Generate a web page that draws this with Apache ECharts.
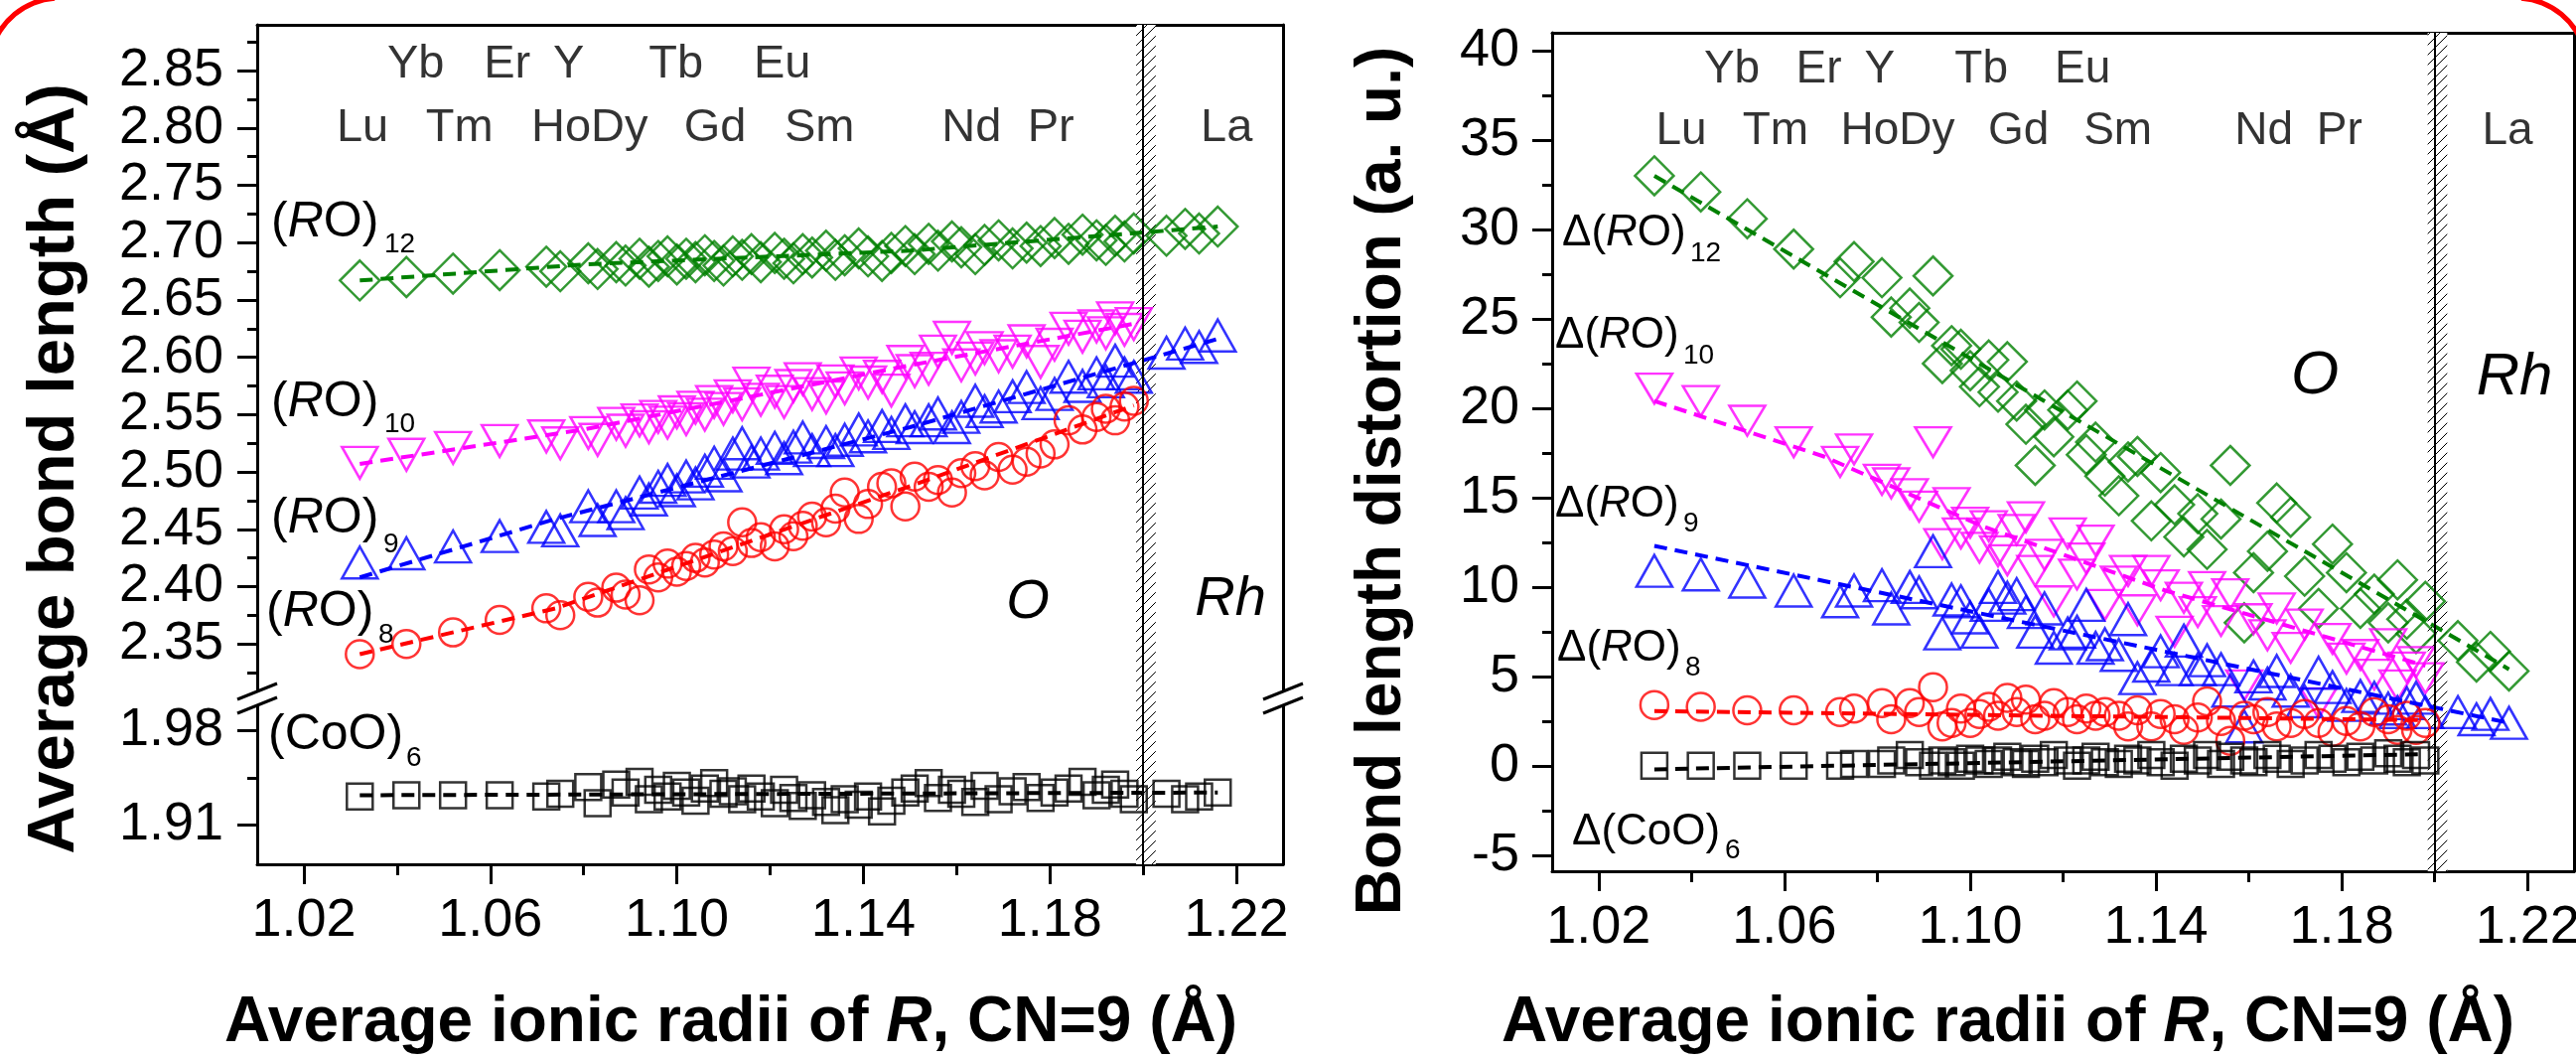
<!DOCTYPE html>
<html>
<head>
<meta charset="utf-8">
<title>Average bond length and bond length distortion vs ionic radius</title>
<script src="https://cdn.jsdelivr.net/npm/echarts@6/dist/echarts.min.js"></script>
<style>
  html, body { margin: 0; padding: 0; background: #fff; overflow: hidden; }
  #main { width: 2594px; height: 1068px; }
</style>
</head>
<body>
<div id="main"></div>
<script>
// average ionic radius of R (CN=9), one entry per composition
var radii = [1.032, 1.042, 1.052, 1.062, 1.072, 1.075, 1.081, 1.083, 1.087, 1.089,
  1.092, 1.094, 1.096, 1.098, 1.100, 1.102, 1.104, 1.106, 1.108, 1.110,
  1.112, 1.114, 1.116, 1.118, 1.121, 1.123, 1.125, 1.127, 1.129, 1.132,
  1.134, 1.136, 1.139, 1.141, 1.144, 1.146, 1.149, 1.151, 1.154, 1.156,
  1.159, 1.161, 1.164, 1.166, 1.169, 1.172, 1.175, 1.178, 1.181, 1.184,
  1.187, 1.190, 1.192, 1.194, 1.196, 1.198, 1.205, 1.209, 1.212, 1.216];

// left panel: average bond length (A)
var lenRO12 = [2.667, 2.670, 2.673, 2.676, 2.679, 2.675, 2.682, 2.677, 2.683, 2.680,
  2.686, 2.679, 2.684, 2.688, 2.681, 2.686, 2.683, 2.689, 2.684, 2.680,
  2.688, 2.685, 2.690, 2.683, 2.691, 2.686, 2.682, 2.690, 2.687, 2.693,
  2.685, 2.689, 2.695, 2.688, 2.684, 2.691, 2.697, 2.690, 2.699, 2.693,
  2.701, 2.696, 2.690, 2.698, 2.702, 2.695, 2.700, 2.697, 2.704, 2.699,
  2.707, 2.702, 2.698, 2.706, 2.701, 2.708, 2.706, 2.712, 2.708, 2.714];
var lenRO10 = [2.508, 2.515, 2.521, 2.527, 2.531, 2.525, 2.534, 2.528, 2.542, 2.536,
  2.545, 2.539, 2.548, 2.543, 2.552, 2.546, 2.556, 2.550, 2.561, 2.555,
  2.566, 2.559, 2.577, 2.563, 2.570, 2.561, 2.575, 2.581, 2.568, 2.565,
  2.579, 2.573, 2.586, 2.578, 2.583, 2.571, 2.596, 2.588, 2.590, 2.605,
  2.617, 2.593, 2.599, 2.608, 2.601, 2.605, 2.614, 2.596, 2.611, 2.625,
  2.618, 2.627, 2.621, 2.634, 2.624, 2.629, null, null, null, null];
var lenRO9 = [2.421, 2.429, 2.435, 2.444, 2.452, 2.449, 2.470, 2.458, 2.470, 2.464,
  2.482, 2.476, 2.487, 2.493, 2.484, 2.496, 2.490, 2.501, 2.508, 2.497,
  2.516, 2.525, 2.509, 2.516, 2.521, 2.512, 2.522, 2.530, 2.519, 2.526,
  2.519, 2.528, 2.537, 2.531, 2.540, 2.534, 2.545, 2.539, 2.545, 2.551,
  2.539, 2.548, 2.562, 2.553, 2.557, 2.566, 2.574, 2.560, 2.568, 2.583,
  2.575, 2.586, 2.579, 2.597, 2.586, 2.583, 2.604, 2.612, 2.609, 2.619];
var lenRO8 = [2.341, 2.350, 2.360, 2.371, 2.381, 2.375, 2.391, 2.386, 2.399, 2.393,
  2.388, 2.415, 2.408, 2.420, 2.413, 2.418, 2.425, 2.421, 2.428, 2.435,
  2.431, 2.456, 2.438, 2.443, 2.435, 2.450, 2.444, 2.453, 2.461, 2.456,
  2.468, 2.482, 2.459, 2.472, 2.487, 2.490, 2.470, 2.496, 2.487, 2.493,
  2.482, 2.499, 2.505, 2.497, 2.513, 2.502, 2.509, 2.516, 2.524, 2.545,
  2.537, 2.548, 2.555, 2.545, 2.557, 2.562, null, null, null, null];
var lenCoO6 = [1.931, 1.932, 1.932, 1.932, 1.931, 1.933, 1.938, 1.926, 1.940, 1.934,
  1.942, 1.929, 1.936, 1.931, 1.939, 1.934, 1.928, 1.937, 1.941, 1.933,
  1.935, 1.929, 1.937, 1.931, 1.926, 1.936, 1.930, 1.924, 1.932, 1.927,
  1.921, 1.929, 1.925, 1.931, 1.920, 1.928, 1.934, 1.937, 1.941, 1.930,
  1.936, 1.933, 1.927, 1.939, 1.929, 1.935, 1.938, 1.930, 1.934, 1.937,
  1.942, 1.932, 1.936, 1.940, 1.933, 1.929, 1.933, 1.929, 1.931, 1.934];

// right panel: bond length distortion (a. u.)
var distRO12 = [33.0, 32.1, 30.6, 28.9, 27.3, 28.2, 27.3, 25.1, 25.6, 24.8,
  27.4, 22.5, 23.5, 23.3, 22.1, 21.2, 22.7, 20.9, 22.6, 20.4,
  19.1, 16.8, 19.9, 18.4, 19.9, 20.4, 17.4, 18.1, 16.2, 15.1,
  17.0, 17.3, 13.7, 16.4, 14.6, 12.8, 14.1, 12.1, 13.8, 16.8,
  8.0, 10.8, 12.0, 14.7, 13.9, 10.6, 8.8, 12.4, 10.8, 8.8,
  9.6, 8.0, 10.4, 8.2, 7.4, 9.2, 7.0, 5.8, 6.4, 5.3];
var distRO10 = [21.1, 20.4, 19.3, 18.1, 17.0, 17.7, 16.0, 15.8, 15.2, 14.5,
  18.1, 12.4, 14.7, 13.0, 13.6, 12.2, 13.4, 12.0, 11.5, 13.2,
  13.9, 10.9, 11.8, 9.2, 13.0, 10.7, 11.6, 12.6, 9.0, 10.3,
  10.9, 8.7, 10.9, 10.1, 7.5, 9.4, 8.6, 10.0, 8.1, 9.6,
  4.5, 8.2, 7.3, 8.8, 6.6, 7.9, 3.5, 7.1, 6.0, 6.2,
  5.1, 6.8, 4.5, 5.5, 5.8, 4.9, null, null, null, null];
var distRO9 = [10.9, 10.7, 10.3, 9.8, 9.2, 9.8, 10.1, 8.8, 10.0, 9.7,
  12.0, 7.4, 9.3, 9.2, 8.3, 7.5, 9.0, 10.0, 9.4, 9.6,
  8.6, 7.5, 8.8, 6.6, 7.4, 7.5, 9.0, 6.6, 6.8, 6.2,
  8.2, 4.9, 5.6, 6.4, 5.4, 7.0, 5.4, 5.9, 5.4, 4.2,
  2.2, 5.0, 4.6, 5.3, 4.2, 3.6, 5.2, 4.4, 3.4, 3.9,
  3.8, 3.2, 3.0, 3.5, 3.8, 3.0, 3.0, 2.6, 2.9, 2.4];
var distRO8 = [3.4, 3.3, 3.1, 3.1, 3.0, 3.2, 3.5, 2.6, 3.5, 3.0,
  4.4, 2.2, 2.4, 3.2, 2.4, 2.9, 3.3, 2.8, 3.8, 3.0,
  3.7, 2.6, 2.8, 3.5, 3.0, 2.6, 3.2, 2.8, 3.0, 2.8,
  2.2, 3.1, 2.2, 2.9, 2.6, 2.0, 2.7, 3.6, 2.5, 1.4,
  2.8, 2.6, 3.0, 2.2, 2.4, 2.9, 2.4, 1.9, 2.5, 2.2,
  3.0, 2.6, 2.0, 2.8, 2.0, 2.4, null, null, null, null];
var distCoO6 = [0.0, 0.0, 0.0, 0.0, 0.0, 0.1, 0.1, 0.3, 0.6, 0.2,
  0.0, 0.3, 0.2, 0.0, 0.4, 0.3, 0.1, 0.3, 0.5, 0.2,
  0.1, 0.4, 0.2, 0.6, 0.3, 0.0, 0.3, 0.5, 0.2, 0.1,
  0.4, 0.3, 0.6, 0.2, 0.0, 0.4, 0.3, 0.6, 0.1, 0.5,
  0.3, 0.2, 0.6, 0.4, 0.1, 0.3, 0.6, 0.4, 0.2, 0.5,
  0.3, 0.7, 0.4, 0.2, 0.6, 0.3, null, null, null, null];

// dashed fit lines
var fitLenRO12 = [[1.032, 2.667], [1.08, 2.681], [1.15, 2.693], [1.216, 2.714]];
var fitLenRO10 = [[1.032, 2.507], [1.08, 2.537], [1.15, 2.593], [1.199, 2.630]];
var fitLenRO9 = [[1.032, 2.408], [1.074, 2.459], [1.15, 2.539], [1.216, 2.616]];
var fitLenRO8 = [[1.032, 2.341], [1.074, 2.381], [1.151, 2.489], [1.198, 2.558]];
var fitLenCoO6 = [[1.032, 1.932], [1.216, 1.934]];
var fitDistRO12 = [[1.032, 33.0], [1.216, 5.4]];
var fitDistRO10 = [[1.032, 20.4], [1.0685, 17.3], [1.1026, 13.4], [1.142, 9.8], [1.198, 5.6]];
var fitDistRO9 = [[1.032, 12.3], [1.216, 2.4]];
var fitDistRO8 = [[1.032, 3.06], [1.198, 2.55]];
var fitDistCoO6 = [[1.032, -0.2], [1.198, 0.65]];

// O / Rh phase boundary band
var bandX = [1.1985, 1.2027];

// tick values
var xMajor = [1.02, 1.06, 1.10, 1.14, 1.18, 1.22];
var xMinor = [1.04, 1.08, 1.12, 1.16, 1.20];
var yUpMajor = [2.35, 2.40, 2.45, 2.50, 2.55, 2.60, 2.65, 2.70, 2.75, 2.80, 2.85];
var yUpMinor = [2.325, 2.375, 2.425, 2.475, 2.525, 2.575, 2.625, 2.675, 2.725, 2.775, 2.825, 2.875];
var yLowMajor = [1.91, 1.98];
var yLowMinor = [1.945];
var yDistMajor = [-5, 0, 5, 10, 15, 20, 25, 30, 35, 40];
var yDistMinor = [-2.5, 2.5, 7.5, 12.5, 17.5, 22.5, 27.5, 32.5, 37.5];

// element labels along the top of each panel
var elemTop = ['Yb', 'Er', 'Y', 'Tb', 'Eu'];
var elemBottom = ['Lu', 'Tm', 'HoDy', 'Gd', 'Sm', 'Nd', 'Pr', 'La'];
var elemTopAtLeft = [1.0440, 1.0636, 1.0768, 1.0998, 1.1226];
var elemBottomAtLeft = [1.0326, 1.0534, 1.0813, 1.1082, 1.1306, 1.1632, 1.1802, 1.2179];
var elemTopAtRight = [1.0487, 1.0674, 1.0805, 1.1024, 1.1242];
var elemBottomAtRight = [1.0378, 1.0581, 1.0844, 1.1104, 1.1318, 1.1632, 1.1795, 1.2157];

var FONT = '"Liberation Sans", Arial, Helvetica, sans-serif';
var GREEN = '#008000', MAGENTA = '#ff00ff', BLUE = '#0000ff', RED = '#ff0000', BLACK = '#000000';
var TICK_FONT = 54;

function pts(ys) {
  var out = [];
  for (var i = 0; i < radii.length; i++) {
    if (ys[i] != null) out.push([radii[i], ys[i]]);
  }
  return out;
}

function hatchTile() {
  var c = document.createElement('canvas');
  c.width = 10; c.height = 10;
  var g = c.getContext('2d');
  g.fillStyle = '#fff';
  g.fillRect(0, 0, 10, 10);
  g.strokeStyle = '#000';
  g.lineWidth = 1.0;
  g.beginPath();
  g.moveTo(-1, 11); g.lineTo(11, -1);
  g.moveTo(-6, 6); g.lineTo(6, -6);
  g.moveTo(4, 16); g.lineTo(16, 4);
  g.stroke();
  return c;
}
var tile = hatchTile();

var f2 = function (v) { return v.toFixed(2); };
var f0 = function (v) { return String(Math.round(v)); };

var xAxes = [], yAxes = [];
function axis(list, gi, min, max, pos, o) {
  list.push({
    type: 'value', gridIndex: gi, min: min, max: max, position: pos,
    axisLine: { show: !!o.line, onZero: false, lineStyle: { color: '#000', width: 3 } },
    axisTick: { show: !!o.ticks, customValues: o.ticks, length: o.len || 20,
      lineStyle: { color: '#000', width: 3 } },
    axisLabel: { show: !!o.labels, customValues: o.labels, margin: o.margin || 8,
      fontSize: TICK_FONT, fontFamily: FONT, color: '#000', formatter: o.fmt },
    splitLine: { show: false },
    minorTick: { show: false }
  });
  return list.length - 1;
}

var XR = [1.01, 1.23];
var YUP = [2.3042, 2.89], YLOW = [1.8807, 2.0054], YDIST = [-5.9, 41];

// grid 0: upper part of left panel
var gx0 = axis(xAxes, 0, XR[0], XR[1], 'top', { line: true });
var gy0 = axis(yAxes, 0, YUP[0], YUP[1], 'left', { line: true, ticks: yUpMajor, labels: yUpMajor, margin: 34, fmt: f2 });
axis(yAxes, 0, YUP[0], YUP[1], 'left', { ticks: yUpMinor, len: 10 });
axis(yAxes, 0, YUP[0], YUP[1], 'right', { line: true });
// grid 1: lower part of left panel
var gx1 = axis(xAxes, 1, XR[0], XR[1], 'bottom', { line: true, ticks: xMajor, labels: xMajor, margin: 30, fmt: f2 });
axis(xAxes, 1, XR[0], XR[1], 'bottom', { ticks: xMinor, len: 11 });
var gy1 = axis(yAxes, 1, YLOW[0], YLOW[1], 'left', { line: true, ticks: yLowMajor, labels: yLowMajor, margin: 34, fmt: f2 });
axis(yAxes, 1, YLOW[0], YLOW[1], 'left', { ticks: yLowMinor, len: 10 });
axis(yAxes, 1, YLOW[0], YLOW[1], 'right', { line: true });
// grid 2: right panel
var gx2 = axis(xAxes, 2, XR[0], XR[1], 'bottom', { line: true, ticks: xMajor, labels: xMajor, margin: 30, fmt: f2 });
axis(xAxes, 2, XR[0], XR[1], 'bottom', { ticks: xMinor, len: 11 });
axis(xAxes, 2, XR[0], XR[1], 'top', { line: true });
var gy2 = axis(yAxes, 2, YDIST[0], YDIST[1], 'left', { line: true, ticks: yDistMajor, labels: yDistMajor, margin: 33, fmt: f0 });
axis(yAxes, 2, YDIST[0], YDIST[1], 'left', { ticks: yDistMinor, len: 10 });
axis(yAxes, 2, YDIST[0], YDIST[1], 'right', { line: true });

function scat(xi, yi, ys, sym, size, color, rot) {
  return {
    type: 'scatter', xAxisIndex: xi, yAxisIndex: yi, data: pts(ys),
    symbol: sym, symbolSize: size, symbolRotate: rot || 0,
    itemStyle: { color: 'rgba(0,0,0,0)', borderColor: color, borderWidth: 2.5 },
    emphasis: { disabled: true }, silent: true, z: 2
  };
}
function fit(xi, yi, data, color) {
  return {
    type: 'line', xAxisIndex: xi, yAxisIndex: yi, data: data,
    symbol: 'none', showSymbol: false,
    lineStyle: { color: color, width: 4, type: [13, 8] },
    emphasis: { disabled: true }, silent: true, z: 3
  };
}
function band(xi, yi) {
  return {
    type: 'scatter', xAxisIndex: xi, yAxisIndex: yi, data: [], silent: true, z: 1,
    markArea: {
      silent: true,
      itemStyle: { color: { image: tile, repeat: 'repeat' }, borderWidth: 0 },
      data: [[{ xAxis: bandX[0] }, { xAxis: bandX[1] }]]
    },
    markLine: {
      silent: true, symbol: ['none', 'none'], label: { show: false },
      lineStyle: { color: '#000', width: 2, type: 'solid' },
      data: [{ xAxis: bandX[0] }, { xAxis: bandX[1] }]
    }
  };
}
function elements(xi, yi, topAt, topY, botAt, botY, size) {
  var d = [];
  elemTop.forEach(function (n, i) { d.push({ name: n, value: [topAt[i], topY] }); });
  elemBottom.forEach(function (n, i) { d.push({ name: n, value: [botAt[i], botY] }); });
  return {
    type: 'scatter', xAxisIndex: xi, yAxisIndex: yi, data: d,
    symbolSize: 1, itemStyle: { color: 'rgba(0,0,0,0)' },
    label: { show: true, position: 'inside', formatter: '{b}', fontSize: size, fontFamily: FONT, color: '#000' },
    silent: true, z: 5
  };
}

var series = [
  band(gx0, gy0), band(gx1, gy1), band(gx2, gy2),
  // left panel
  scat(gx0, gy0, lenRO12, 'diamond', [40, 40], GREEN),
  scat(gx0, gy0, lenRO10, 'triangle', [36, 32], MAGENTA, 180),
  scat(gx0, gy0, lenRO9, 'triangle', [36, 32], BLUE),
  scat(gx0, gy0, lenRO8, 'circle', 28, RED),
  scat(gx1, gy1, lenCoO6, 'rect', 26, BLACK),
  fit(gx0, gy0, fitLenRO12, GREEN),
  fit(gx0, gy0, fitLenRO10, MAGENTA),
  fit(gx0, gy0, fitLenRO9, BLUE),
  fit(gx0, gy0, fitLenRO8, RED),
  fit(gx1, gy1, fitLenCoO6, BLACK),
  elements(gx0, gy0, elemTopAtLeft, 2.855, elemBottomAtLeft, 2.800, 47),
  // right panel
  scat(gx2, gy2, distRO12, 'diamond', [39, 39], GREEN),
  scat(gx2, gy2, distRO10, 'triangle', [36, 30], MAGENTA, 180),
  scat(gx2, gy2, distRO9, 'triangle', [36, 32], BLUE),
  scat(gx2, gy2, distRO8, 'circle', 28, RED),
  scat(gx2, gy2, distCoO6, 'rect', 26, BLACK),
  fit(gx2, gy2, fitDistRO12, GREEN),
  fit(gx2, gy2, fitDistRO10, MAGENTA),
  fit(gx2, gy2, fitDistRO9, BLUE),
  fit(gx2, gy2, fitDistRO8, RED),
  fit(gx2, gy2, fitDistCoO6, BLACK),
  elements(gx2, gy2, elemTopAtRight, 38.9, elemBottomAtRight, 35.47, 46)
];

function txt(x, y, text, size, extra, rotation) {
  var st = { text: text, fontSize: size, fontFamily: FONT, fill: '#000', align: 'left', verticalAlign: 'middle' };
  for (var k in extra) st[k] = extra[k];
  return { type: 'text', x: x, y: y, rotation: rotation || 0, silent: true, z: 60, style: st };
}
function rich(size) {
  return {
    n: { fontSize: size, fontFamily: FONT, color: '#000' },
    i: { fontSize: size, fontFamily: FONT, fontStyle: 'italic', color: '#000' }
  };
}
function breakMark(cx) {
  return [
    { type: 'polygon', silent: true, z: 50,
      shape: { points: [[cx - 20, 704], [cx + 20, 688], [cx + 20, 702], [cx - 20, 718]] },
      style: { fill: '#fff', stroke: null } },
    { type: 'line', silent: true, z: 51, shape: { x1: cx - 20, y1: 704, x2: cx + 20, y2: 688 },
      style: { stroke: '#000', lineWidth: 3 } },
    { type: 'line', silent: true, z: 51, shape: { x1: cx - 20, y1: 718, x2: cx + 20, y2: 702 },
      style: { stroke: '#000', lineWidth: 3 } }
  ];
}
// red rounded corner of the slide frame, only partly inside the picture (filled ring piece, no stroke)
function cornerArc(cx, a0, a1) {
  return { type: 'sector', silent: true, z: 100,
    shape: { cx: cx, cy: 69, r0: 68.5, r: 73.5, startAngle: a0 * Math.PI / 180, endAngle: a1 * Math.PI / 180, clockwise: true },
    style: { fill: '#ff0000', stroke: null } };
}

var titleRich = {
  b: { fontSize: 64, fontWeight: 'bold', fontFamily: FONT, color: '#000' },
  bi: { fontSize: 64, fontWeight: 'bold', fontStyle: 'italic', fontFamily: FONT, color: '#000' }
};

var graphics = [
  // white strip along the top edge, under the corner pieces
  { type: 'rect', silent: true, z: 99, shape: { x: 0, y: -2, width: 2594, height: 6 }, style: { fill: '#fff', stroke: null } },
  cornerArc(60, 195, 266), cornerArc(2534, 274, 345)
].concat(breakMark(259), breakMark(1292), [
  // axis titles
  txt(56, 472, 'Average bond length (Å)', 67, { fontWeight: 'bold', align: 'center' }, Math.PI / 2),
  txt(1392, 484, 'Bond length distortion (a. u.)', 64, { fontWeight: 'bold', align: 'center' }, Math.PI / 2),
  txt(736, 1030, '{b|Average ionic radii of }{bi|R}{b|, CN=9 (Å)}', 64, { align: 'center', rich: titleRich }),
  txt(2022, 1030, '{b|Average ionic radii of }{bi|R}{b|, CN=9 (Å)}', 64, { align: 'center', rich: titleRich }),
  // left panel series labels
  txt(273, 224, '{n|(}{i|R}{n|O)}', 50, { rich: rich(50) }), txt(387, 246, '12', 28),
  txt(273, 405, '{n|(}{i|R}{n|O)}', 50, { rich: rich(50) }), txt(387, 427, '10', 28),
  txt(273, 522, '{n|(}{i|R}{n|O)}', 50, { rich: rich(50) }), txt(386, 548, '9', 28),
  txt(268, 616, '{n|(}{i|R}{n|O)}', 50, { rich: rich(50) }), txt(381, 639, '8', 28),
  txt(270, 740, '(CoO)', 50), txt(409, 763, '6', 28),
  // right panel series labels
  txt(1573, 235, '{n|Δ(}{i|R}{n|O)}', 44, { rich: rich(44) }), txt(1702, 255, '12', 28),
  txt(1566, 338, '{n|Δ(}{i|R}{n|O)}', 44, { rich: rich(44) }), txt(1695, 358, '10', 28),
  txt(1566, 508, '{n|Δ(}{i|R}{n|O)}', 44, { rich: rich(44) }), txt(1695, 527, '9', 28),
  txt(1568, 653, '{n|Δ(}{i|R}{n|O)}', 44, { rich: rich(44) }), txt(1697, 672, '8', 28),
  txt(1583, 838, 'Δ(CoO)', 44), txt(1737, 856, '6', 28),
  // phase labels
  txt(1035, 606, 'O', 56, { fontStyle: 'italic', align: 'center' }),
  txt(1239, 603, 'Rh', 56, { fontStyle: 'italic', align: 'center' }),
  txt(2331, 379, 'O', 62, { fontStyle: 'italic', align: 'center' }),
  txt(2532, 380, 'Rh', 60, { fontStyle: 'italic', align: 'center' })
]);

var chart = echarts.init(document.getElementById('main'));
chart.setOption({
  backgroundColor: '#fff',
  animation: false,
  textStyle: { fontFamily: FONT },
  grid: [
    { left: 259, top: 25, width: 1033, height: 676, show: false, containLabel: false, outerBoundsMode: 'none' },
    { left: 259, top: 701, width: 1033, height: 169, show: false, containLabel: false, outerBoundsMode: 'none' },
    { left: 1563, top: 33, width: 1029, height: 844, show: false, containLabel: false, outerBoundsMode: 'none' }
  ],
  xAxis: xAxes,
  yAxis: yAxes,
  series: series,
  graphic: graphics
});
</script>
</body>
</html>
